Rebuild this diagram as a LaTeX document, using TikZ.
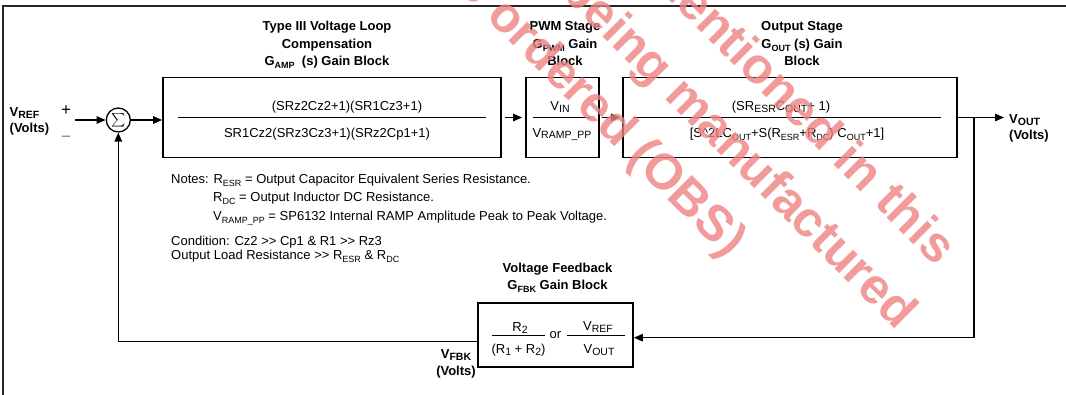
\documentclass[tikz,border=0pt]{standalone}
\usepackage{fontspec}
\setmainfont{Liberation Sans}
\usetikzlibrary{arrows.meta,calc}
\definecolor{wmc}{RGB}{237,130,130}
\newcommand{\lsub}[1]{\raisebox{-3pt}{\fontsize{9}{9}\selectfont #1}}
\newcommand{\hsub}[1]{\raisebox{-1.5pt}{\fontsize{10.5}{10.5}\selectfont #1}}
\newcommand{\grgr}{>\kern0pt>}
\begin{document}
\begin{tikzpicture}[x=1pt,y=-1pt,
  txt/.style={font=\fontsize{13}{15}\selectfont, inner sep=0pt, anchor=base},
  ttl/.style={font=\fontsize{13}{15}\selectfont\bfseries, inner sep=0pt, anchor=base},
  blk/.style={draw, line width=1.8pt, inner sep=0pt},
  conn/.style={line width=1.4pt},
  arr/.style={conn, -{Triangle[length=9pt,width=7.5pt]}},
  fl/.style={line width=1.2pt},
  wm/.style={font=\fontsize{50}{50}\selectfont\bfseries, text=wmc, text opacity=0.8, inner sep=0pt, rotate=-45, anchor=base east}
]
\useasboundingbox (0,0) rectangle (1066,395);
% frame
\coordinate (fa) at (3,395);
\coordinate (fb) at (3,6);
\coordinate (fc) at (1066,6);
\draw[line width=1.3pt, black!85] (fa) -- (fb) -- (fc);

% blocks
\node[blk, minimum width=338pt, minimum height=80pt] (box1) at (332,117.5) {};
\node[blk, minimum width=72.7pt, minimum height=80pt] (box2) at (562.3,117.5) {};
\node[blk, minimum width=334pt, minimum height=80pt] (box3) at (789.7,117.5) {};
\node[blk, minimum width=155pt, minimum height=64pt] (fbk) at (555.5,335.3) {};
\node[circle, draw, line width=1.3pt, minimum size=24pt, inner sep=0pt] (sum) at (118.3,120) {\scalebox{1.35}{$\textstyle\sum$}};

% titles
\node[ttl] (t1a) at (327,31) {Type III Voltage Loop};
\node[ttl] (t1b) at (327,48.3) {Compensation};
\node[ttl] (t1c) at (327,65.5) {G\lsub{AMP} \ (s) Gain Block};
\node[ttl] (t2a) at (565,31) {PWM Stage};
\node[ttl] (t2b) at (565,48.3) {G\lsub{PWM} Gain};
\node[ttl] (t2c) at (565,65.5) {Block};
\node[ttl] (t3a) at (802,31) {Output Stage};
\node[ttl] (t3b) at (802,48.3) {G\lsub{OUT} (s) Gain};
\node[ttl] (t3c) at (802,65.5) {Block};
\node[ttl] (t4a) at (557.5,272.3) {Voltage Feedback};
\node[ttl] (t4b) at (557.5,289.3) {G\lsub{FBK} Gain Block};

% side labels
\node[ttl, anchor=base west] (vref) at (9.5,117) {V\hsub{REF}};
\node[ttl, anchor=base west] (vrefv) at (9.5,133) {(Volts)};
\node[txt, font=\fontsize{17}{17}\selectfont] (plus) at (66,116) {+};
\node[txt, font=\fontsize{15}{15}\selectfont, text=black!60] (minus) at (66,141) {\char"2013};
\node[ttl, anchor=base west] (voutl) at (1009,124) {V\hsub{OUT}};
\node[ttl, anchor=base west] (voutv) at (1009,140) {(Volts)};
\node[ttl] (vfbk) at (456,359) {V\hsub{FBK}};
\node[ttl] (vfbkv) at (456,376) {(Volts)};

% box1 contents
\draw[fl] (178,117.7) -- (486,117.7);
\node[txt] (n1) at (347,111) {(SRz2Cz2+1)(SR1Cz3+1)};
\node[txt] (d1) at (327,137.5) {SR1Cz2(SRz3Cz3+1)(SRz2Cp1+1)};
% box2 contents
\draw[fl] (533,117.7) -- (591,117.7);
\node[txt] (n2) at (560,111) {V\hsub{IN}};
\node[txt] (d2) at (562,137.5) {V\hsub{RAMP\_PP}};
% box3 contents
\draw[fl] (633,117.7) -- (941,117.7);
\node[txt] (n3) at (781,111) {(SR\hsub{ESR}C\hsub{OUT}+ 1)};
\node[txt] (d3) at (787,137.7) {[S\^{}2LC\lsub{OUT}+S(R\lsub{ESR}+R\lsub{DC}) C\lsub{OUT}+1]};
% fbk contents
\draw[fl] (492,335.7) -- (545,335.7);
\draw[fl] (567.3,335.7) -- (625,335.7);
\node[txt] (n4) at (520,331.7) {R\hsub{2}};
\node[txt] (d4) at (518.5,354) {(R\hsub{1} + R\hsub{2})};
\node[txt] (or) at (555.5,339) {or};
\node[txt] (n5) at (598,331) {V\hsub{REF}};
\node[txt] (d5) at (599,354) {V\hsub{OUT}};

% notes
\node[txt, anchor=base west] (nt1) at (171,183.3) {Notes: R\lsub{ESR} = Output Capacitor Equivalent Series Resistance.};
\node[txt, anchor=base west] (nt2) at (213,202) {R\lsub{DC} = Output Inductor DC Resistance.};
\node[txt, anchor=base west] (nt3) at (213,220.7) {V\lsub{RAMP\_PP} = SP6132 Internal RAMP Amplitude Peak to Peak Voltage.};
\node[txt, anchor=base west] (nt4) at (171,246) {Condition: Cz2 \grgr{} Cp1 \& R1 \grgr{} Rz3};
\node[txt, anchor=base west] (nt5) at (171,260) {Output Load Resistance \grgr{} R\lsub{ESR} \& R\lsub{DC}};

% connectors
\coordinate (in) at (75,120);
\coordinate (vout) at (1004,117.5);
\coordinate (j) at (974,117.5);
\draw[arr] (in) -- (sum.west);
\draw[arr] (sum.east) -- (sum.east -| box1.west);
\draw[arr, shorten <=3pt, shorten >=3pt] (box1.east) -- (box2.west);
\draw[arr, shorten <=2pt, shorten >=2pt] (box2.east) -- (box3.west);
\draw[arr] (box3.east) -- (vout);
\draw[arr] (j) |- ($(fbk.east)+(0,2.4)$);
\draw[arr] ($(fbk.west)+(0,6)$) -| (sum.south);

% watermark
\begin{scope}
\clip (0,0) rectangle (1066,395);
\node[wm] (wmA) at (727,259) {be ordered (OBS)};
\node[wm] (wmB) at (897,331) {being manufactured};
\node[wm] (wmC) at (936,267) {mentioned in this};
\end{scope}
\end{tikzpicture}
\end{document}
